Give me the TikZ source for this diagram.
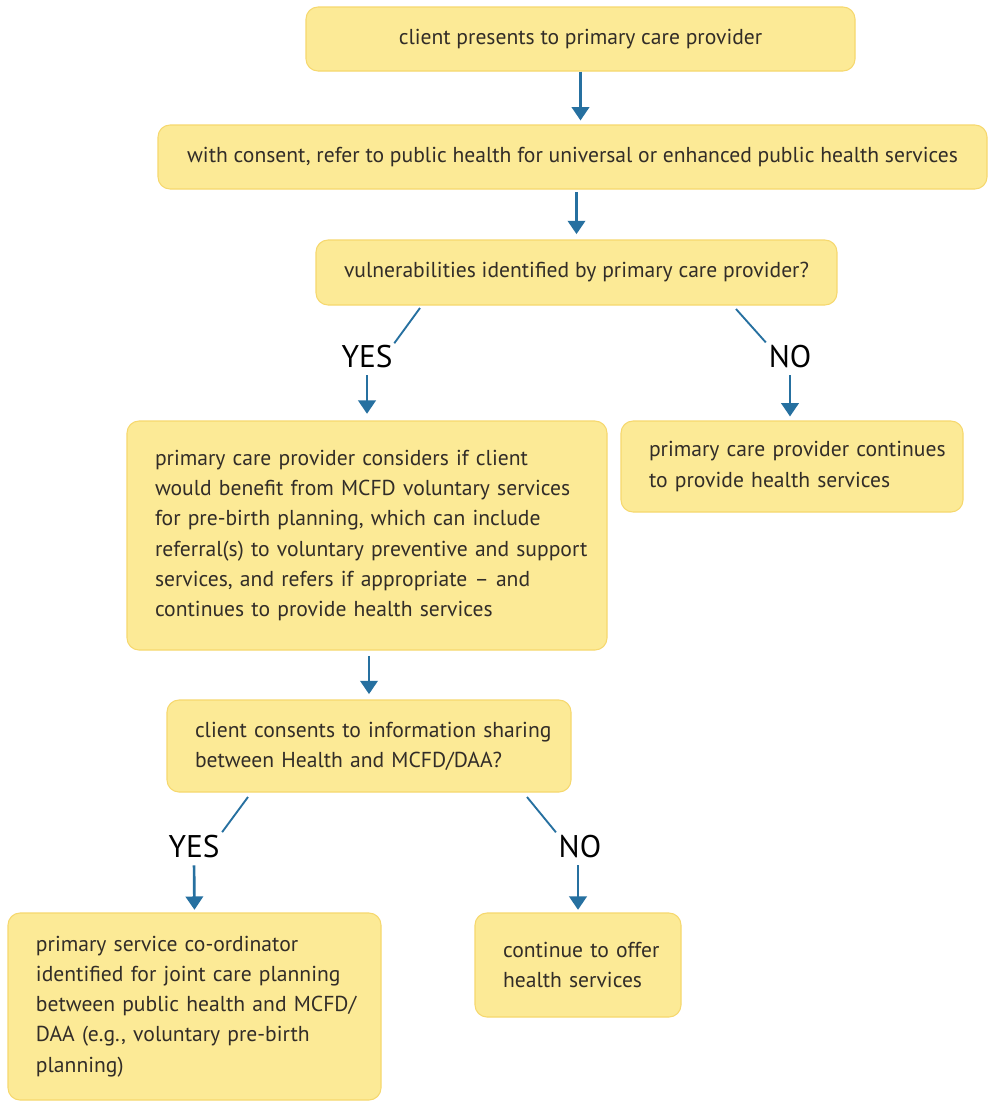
\documentclass[tikz,border=0pt]{standalone}
\usepackage{fontspec}
\setmainfont{PT Sans}
\usetikzlibrary{arrows.meta}
\definecolor{boxfill}{RGB}{252,234,150}
\definecolor{boxline}{RGB}{246,216,110}
\definecolor{arr}{RGB}{38,112,160}
\definecolor{txt}{RGB}{50,45,40}
\newcommand{\bxline}[1]{\mbox{#1}}
\begin{document}
\begin{tikzpicture}[x=0.75pt,y=-0.75pt,
  box/.style={draw=boxline,line width=0.8pt,fill=boxfill,rounded corners=9pt,
    inner xsep=21pt,inner ysep=0pt,text=txt,
    font=\fontsize{16.2}{22.6}\selectfont},
  lbl/.style={inner sep=0pt,font=\fontsize{23.5}{26}\selectfont,text=black},
  flow/.style={draw=arr,line width=2pt,-{Triangle[length=10pt,width=13pt]}},
  diag/.style={draw=arr,line width=1.4pt}]
\path[use as bounding box,fill=white] (0,0) rectangle (988,1103);

\node[box,minimum width=411.75pt,minimum height=48pt,align=center] (c1) at (580.5,39) {client presents to primary care provider};
\node[box,minimum width=621.75pt,minimum height=48pt,align=center] (c2) at (572.5,157) {with consent, refer to public health for universal or enhanced public health services};
\node[box,minimum width=384.75pt,minimum height=48.75pt,align=center] (c3) at (576.5,272.5) {vulnerabilities identified by primary care provider?};
\node[box,text width=318pt,minimum height=171.75pt,align=left] (big) at (367,535.5) {\bxline{primary care provider considers if client}\\\bxline{would benefit from MCFD voluntary services}\\\bxline{for pre-birth planning, which can include}\\\bxline{referral(s) to voluntary preventive and support}\\\bxline{services, and refers if appropriate -- and}\\\bxline{continues to provide health services}};
\node[box,text width=214.5pt,minimum height=68.25pt,align=left] (rno) at (792,466.5) {\bxline{primary care provider continues}\\\bxline{to provide health services}};
\node[box,text width=261pt,minimum height=69pt,align=left] (cc) at (369,746) {\bxline{client consents to information sharing}\\\bxline{between Health and MCFD/DAA?}};
\node[box,text width=237.75pt,minimum height=140.25pt,align=left] (bl) at (194.5,1006.5) {\bxline{primary service co-ordinator}\\\bxline{identified for joint care planning}\\\bxline{between public health and MCFD/}\\\bxline{DAA (e.g., voluntary pre-birth}\\\bxline{planning)}};
\node[box,text width=112.5pt,minimum height=78pt,align=left] (bm) at (578,965) {\bxline{continue to offer}\\\bxline{health services}};

\node[lbl] (y1) at (367,357) {YES};
\node[lbl] (n1) at (790,357) {NO};
\node[lbl] (y2) at (194,847) {YES};
\node[lbl] (n2) at (580,847) {NO};

\coordinate (d1) at (420,308);
\coordinate (d2) at (736,309);
\coordinate (d3) at (248,797);
\coordinate (d4) at (527,797);

\draw[flow,shorten <=0pt,shorten >=3pt] (c1.south) -- (c1.south |- c2.north);
\draw[flow,shorten <=2pt,shorten >=4pt] (c2.south -| c3.north) -- (c3.north);
\draw[diag,shorten >=2pt] (d1) -- (y1.north east);
\draw[diag,shorten >=3pt] (d2) -- (n1.north west);
\draw[flow,shorten <=5pt,shorten >=5pt] (y1.south) -- (big.north);
\draw[flow,shorten <=5pt,shorten >=3pt] (n1.south) -- (n1.south |- rno.north);
\draw[flow,shorten <=4pt,shorten >=4pt] (big.south -| cc.north) -- (cc.north);
\draw[diag,shorten >=3pt] (d3) -- (y2.north east);
\draw[diag,shorten >=3pt] (d4) -- (n2.north west);
\draw[flow,shorten <=5pt,shorten >=2pt] (y2.south) -- (bl.north);
\draw[flow,shorten <=5pt,shorten >=2pt] (n2.south -| bm.north) -- (bm.north);
\end{tikzpicture}
\end{document}
